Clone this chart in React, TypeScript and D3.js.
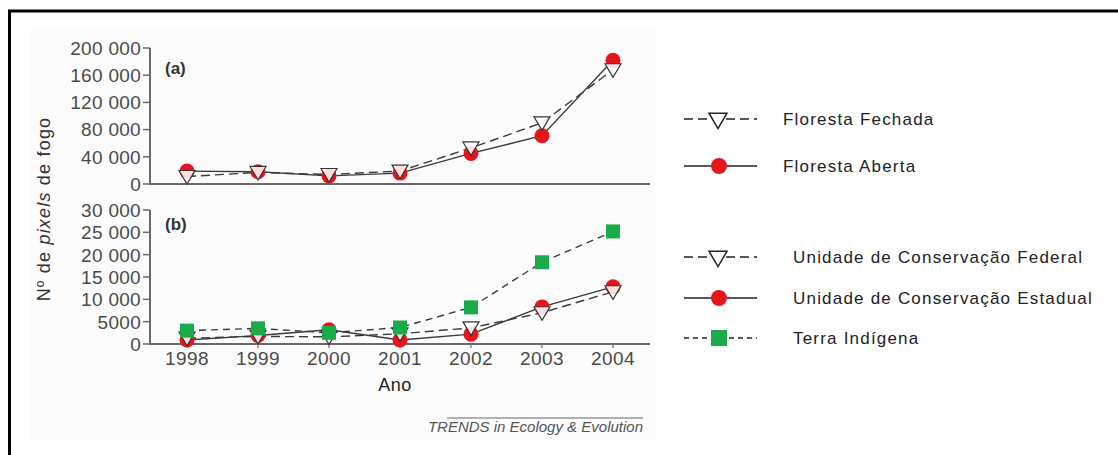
import React from "react";
import * as d3 from "d3";

const years = [1998, 1999, 2000, 2001, 2002, 2003, 2004];
const florestaFechada = [11000, 17000, 14000, 19000, 53000, 90000, 168000];
const florestaAberta = [19000, 18000, 12000, 16000, 45000, 71000, 182000];
const ucFederal = [1300, 1700, 1600, 2300, 3600, 7000, 11700];
const ucEstadual = [900, 1900, 3200, 900, 2200, 8300, 12800];
const terraIndigena = [3000, 3500, 2500, 3700, 8200, 18300, 25200];
const ticksA = [0, 40000, 80000, 120000, 160000, 200000];
const ticksB = [0, 5000, 10000, 15000, 20000, 25000, 30000];

const fmt = (v: number) => (v >= 10000 ? d3.format(",")(v).replace(/,/g, " ") : String(v));

const LINE = "#3a3a3a";
const AXIS = "#6a6a6a";
const RED = "#e8141c";
const GREEN = "#1aac4a";
const FONT = "'Liberation Sans', Arial, sans-serif";

const tri = (x: number, y: number, s = 8) => `M${x - s},${y - s * 0.75}L${x + s},${y - s * 0.75}L${x},${y + s * 0.95}Z`;

function Series({ x, y, data, kind }: any) {
  const line = d3.line<number>().x((_, i) => x(years[i])).y((d) => y(d));
  const dash = kind === "tri" ? "9,5" : kind === "sq" ? "7,5" : undefined;
  return <path d={line(data) || ""} fill="none" stroke={LINE} strokeWidth={1.4} strokeDasharray={dash} />;
}

function Markers({ x, y, data, kind }: any) {
  return (
    <g>
      {data.map((d: number, i: number) => {
        const cx = x(years[i]);
        const cy = y(d);
        if (kind === "circ") return <circle key={i} cx={cx} cy={cy} r={7.5} fill={RED} />;
        if (kind === "sq") return <rect key={i} x={cx - 7} y={cy - 7} width={14} height={14} fill={GREEN} />;
        return <path key={i} d={tri(cx, cy)} fill="white" fillOpacity={0.85} stroke="#333" strokeWidth={1.2} />;
      })}
    </g>
  );
}

function Panel({ top, bottom, max, ticks, label, labelY, children, showYears }: any) {
  const x = d3.scaleLinear().domain([1998, 2004]).range([187, 613]);
  const y = d3.scaleLinear().domain([0, max]).range([bottom, top]);
  return (
    <g>
      <line x1={150} x2={650} y1={bottom} y2={bottom} stroke={AXIS} strokeWidth={2} />
      <line x1={150} x2={150} y1={top} y2={bottom + 1} stroke={AXIS} strokeWidth={2} />
      {ticks.map((t: number) => (
        <g key={t}>
          <line x1={143} x2={150} y1={y(t)} y2={y(t)} stroke={AXIS} strokeWidth={1.5} />
          <text x={141} y={y(t)} dy="0.36em" textAnchor="end" fontSize={19} letterSpacing={0.3} fill="#4a4a4a" fontFamily={FONT}>
            {fmt(t)}
          </text>
        </g>
      ))}
      {showYears &&
        years.map((yr) => (
          <g key={yr}>
            <line x1={x(yr)} x2={x(yr)} y1={bottom} y2={bottom + 4} stroke={AXIS} strokeWidth={1.2} />
            <text x={x(yr)} y={bottom + 21} textAnchor="middle" fontSize={19} letterSpacing={0.4} fill="#4a4a4a" fontFamily={FONT}>
              {yr}
            </text>
          </g>
        ))}
      <text x={165} y={labelY} fontSize={17} fontWeight="bold" fill="#333" fontFamily={FONT}>
        {label}
      </text>
      {children(x, y)}
    </g>
  );
}

function LegendItem({ y, kind, text, tx }: any) {
  const dash = kind === "tri" ? "9,5" : kind === "sq" ? "5,4" : undefined;
  return (
    <g>
      <line x1={684} x2={757} y1={y} y2={y} stroke="#222" strokeWidth={1.3} strokeDasharray={dash} />
      {kind === "circ" && <circle cx={719} cy={y} r={8} fill={RED} />}
      {kind === "sq" && <rect x={711} y={y - 8} width={16} height={16} fill={GREEN} />}
      {kind === "tri" && <path d={tri(718, y + 1, 9)} fill="white" stroke="#222" strokeWidth={1.5} />}
      <text x={tx} y={y} dy="0.36em" fontSize={17} fill="#222" fontFamily={FONT} letterSpacing={1.2}>
        {text}
      </text>
    </g>
  );
}

export default function App() {
  return (
    <svg width={1118} height={455} style={{ position: "absolute", left: 0, top: 0, background: "white" }}>
      <rect x={30} y={30} width={625} height={410} fill="#fcfcfc" />
      <rect x={9.5} y={11} width={1200} height={600} fill="none" stroke="black" strokeWidth={3} />
      <Panel top={48} bottom={184} max={200000} ticks={ticksA} label="(a)" labelY={74} showYears={false}>
        {(x: any, y: any) => (
          <g>
            <Series x={x} y={y} data={florestaFechada} kind="tri" />
            <Series x={x} y={y} data={florestaAberta} kind="circ" />
            <Markers x={x} y={y} data={florestaAberta} kind="circ" />
            <Markers x={x} y={y} data={florestaFechada} kind="tri" />
          </g>
        )}
      </Panel>
      <Panel top={210} bottom={344} max={30000} ticks={ticksB} label="(b)" labelY={230} showYears={true}>
        {(x: any, y: any) => (
          <g>
            <Series x={x} y={y} data={ucFederal} kind="tri" />
            <Series x={x} y={y} data={ucEstadual} kind="circ" />
            <Series x={x} y={y} data={terraIndigena} kind="sq" />
            <Markers x={x} y={y} data={ucEstadual} kind="circ" />
            <Markers x={x} y={y} data={ucFederal} kind="tri" />
            <Markers x={x} y={y} data={terraIndigena} kind="sq" />
          </g>
        )}
      </Panel>
      <text x={395} y={391} textAnchor="middle" fontSize={18} letterSpacing={0.5} fill="#222" fontFamily={FONT}>
        Ano
      </text>
      <text transform="translate(50,209) rotate(-90)" textAnchor="middle" fontSize={18} letterSpacing={1.2} fill="#333" fontFamily={FONT}>
        Nº de <tspan fontStyle="italic">pixels</tspan> de fogo
      </text>
      <line x1={447} x2={643} y1={418} y2={418} stroke="#666" strokeWidth={1.2} />
      <text x={643} y={432} textAnchor="end" fontSize={15} fontStyle="italic" fill="#555" fontFamily={FONT}>
        TRENDS in Ecology &amp; Evolution
      </text>
      <LegendItem y={119} kind="tri" text="Floresta Fechada" tx={783} />
      <LegendItem y={166} kind="circ" text="Floresta Aberta" tx={783} />
      <LegendItem y={257} kind="tri" text="Unidade de Conservação Federal" tx={793} />
      <LegendItem y={298} kind="circ" text="Unidade de Conservação Estadual" tx={793} />
      <LegendItem y={338} kind="sq" text="Terra Indígena" tx={793} />
    </svg>
  );
}
